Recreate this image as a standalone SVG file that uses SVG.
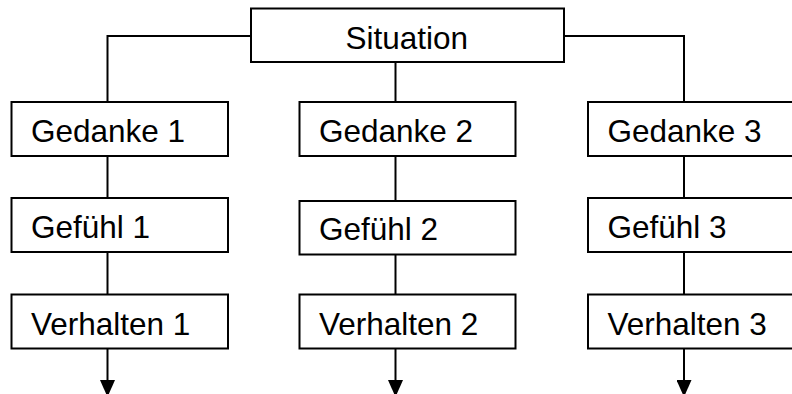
<svg xmlns="http://www.w3.org/2000/svg" width="792" height="394" viewBox="0 0 792 394">
<style>
.box{fill:#fff;stroke:#000;stroke-width:2}
.lbl{font-family:"Liberation Sans",Arial,sans-serif;font-size:31.5px;fill:#000}
.con{fill:none;stroke:#000;stroke-width:2}
</style>
<defs>
<marker id="arr" markerUnits="userSpaceOnUse" markerWidth="17" markerHeight="15" refX="17" refY="7.5" orient="auto" viewBox="0 0 17 15">
<path d="M0,0 L17,7.5 L0,15 z" fill="#000"/>
</marker>
</defs>
<rect width="792" height="394" fill="#fff"/>
<g id="connectors">
<path class="con" d="M251,36 H107.5 V102"/>
<path class="con" d="M395.5,62 V102"/>
<path class="con" d="M564,36 H684 V102"/>
<path class="con" d="M107.5,156 V198"/>
<path class="con" d="M107.5,252 V294"/>
<path class="con" d="M107.5,348 V397" marker-end="url(#arr)"/>
<path class="con" d="M395.5,156 V201"/>
<path class="con" d="M395.5,254 V294"/>
<path class="con" d="M395.5,348 V397" marker-end="url(#arr)"/>
<path class="con" d="M684,156 V198"/>
<path class="con" d="M684,252 V294"/>
<path class="con" d="M684,348 V397" marker-end="url(#arr)"/>
</g>
<g id="situation"><rect class="box" x="251" y="8.5" width="313" height="53.5"/><text class="lbl" x="345.5" y="49">Situation</text></g>
<g id="gedanke1"><rect class="box" x="11.5" y="102" width="216.5" height="54"/><text class="lbl" x="31" y="141.5">Gedanke 1</text></g>
<g id="gedanke2"><rect class="box" x="299.5" y="102" width="216" height="54"/><text class="lbl" x="319" y="141.5">Gedanke 2</text></g>
<g id="gedanke3"><rect class="box" x="588" y="102" width="220" height="54"/><text class="lbl" x="607.5" y="141.5">Gedanke 3</text></g>
<g id="gefuehl1"><rect class="box" x="11.5" y="198" width="216.5" height="54"/><text class="lbl" x="31" y="237.5">Gefühl 1</text></g>
<g id="gefuehl2"><rect class="box" x="299.5" y="201" width="216" height="53.5"/><text class="lbl" x="319" y="240">Gefühl 2</text></g>
<g id="gefuehl3"><rect class="box" x="588" y="198" width="220" height="54"/><text class="lbl" x="607.5" y="237.5">Gefühl 3</text></g>
<g id="verhalten1"><rect class="box" x="11.5" y="294.5" width="216.5" height="54"/><text class="lbl" x="31" y="335">Verhalten 1</text></g>
<g id="verhalten2"><rect class="box" x="299.5" y="294.5" width="216" height="54"/><text class="lbl" x="319" y="335">Verhalten 2</text></g>
<g id="verhalten3"><rect class="box" x="588" y="294.5" width="220" height="54"/><text class="lbl" x="607.5" y="335">Verhalten 3</text></g>
</svg>
